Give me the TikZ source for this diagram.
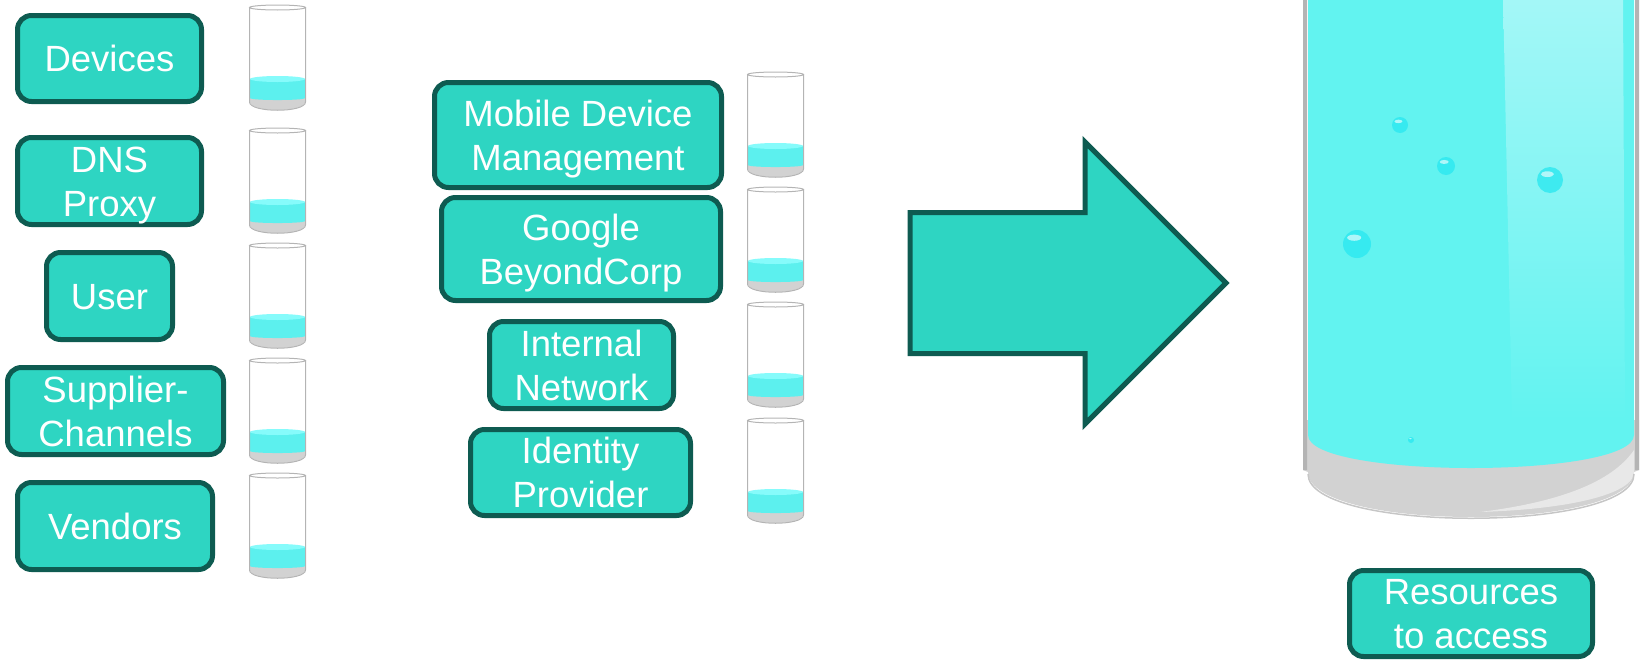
\documentclass[tikz,border=0pt]{standalone}
\usepackage{fontspec}
\setmainfont{Liberation Sans}
\usepackage{tikz}
\definecolor{boxfill}{HTML}{2ED5C2}
\definecolor{boxline}{HTML}{0E5B51}
\definecolor{water}{HTML}{5CF0EE}
\definecolor{watertop}{HTML}{86FBFB}
\definecolor{bigwater}{HTML}{62F3F0}
\definecolor{shine}{HTML}{A4F7F7}
\definecolor{glassline}{HTML}{B4B4B4}
\definecolor{glassbase}{HTML}{D2D2D2}
\definecolor{bubble}{HTML}{2CE8F0}
\tikzset{
x=1pt, y=-1pt, % one unit is one pixel of the picture, y runs downwards
every node/.style={font=\fontsize{36.5}{44}\selectfont, text=white},
source/.style={draw=boxline, fill=boxfill, line width=5pt, rounded corners=14pt,
  align=center, inner sep=0pt, text height=26pt, text depth=0pt}, % sets the properties for each box
twoline/.style={text height=70pt}, % room for the first of two lines
glass/.pic={ % a small glass, 57 wide and 106 high
  \fill[glassbase] (1,86) -- (1,98) .. controls (1,108.7) and (56,108.7) .. (56,98) -- (56,86) -- cycle;
  \fill[water] (1,75) -- (1,94) .. controls (1,96.7) and (56,96.7) .. (56,94) -- (56,75) -- cycle;
  \fill[watertop] (28.5,75) ellipse (27.5 and 3);
  \draw[glassline, line width=1pt] (28.5,3.5) ellipse (28 and 2.5)
    (0.5,3.5) -- (0.5,98) .. controls (0.5,109) and (56.5,109) .. (56.5,98) -- (56.5,3.5);
},
}
\begin{document}
\begin{tikzpicture}
\useasboundingbox (0,0) rectangle (1648,659);

% the big glass
\fill[glassbase] (1303,420) -- (1303,470) -- (1308,472) .. controls (1308,532) and (1634,532) .. (1634,472) -- (1639,470) -- (1639,420) -- cycle;
\fill[gray!18] (1634,450) .. controls (1612,482) and (1560,502) .. (1480,512) .. controls (1572,509) and (1630,494) .. (1634,474) -- cycle;
\draw[gray!45, line width=1.5pt] (1308,474) .. controls (1308,533) and (1634,533) .. (1634,474);
\fill[bigwater] (1308,-5) -- (1308,435) .. controls (1308,479) and (1634,479) .. (1634,435) -- (1634,-5) -- cycle;
\shade[top color=shine, bottom color=bigwater] (1503,-5) -- (1512,420) -- (1625,420) -- (1623,-5) -- cycle;
\fill[glassline] (1303,-5) rectangle (1307,470) (1635,-5) rectangle (1639,470);
\foreach \x/\y/\r in {1400/125/8, 1446/166/9, 1550/180/13, 1357/244/14, 1411/440/3}{
  \fill[bubble, opacity=.8] (\x,\y) circle (\r);
  \fill[white, opacity=.6] (\x-.2*\r,\y-.45*\r) ellipse ({.5*\r} and {.22*\r});
}

% the arrow
\draw[draw=boxline, fill=boxfill, line width=5pt, line join=miter]
  (910,212.5) -- (1085,212.5) -- (1085,142) -- (1226,283) -- (1085,424) -- (1085,353.5) -- (910,353.5) -- cycle;

% first column
\node[source, minimum width=184pt, minimum height=86pt] (devices) at (109.5,58.5) {Devices};
\node[source, twoline, minimum width=184pt, minimum height=87pt] (dns) at (109.5,181) {DNS\\Proxy};
\node[source, minimum width=126pt, minimum height=87pt] (user) at (109.5,296) {User};
\node[source, twoline, minimum width=216pt, minimum height=87pt] (supplier) at (115.5,411) {Supplier-\\Channels};
\node[source, minimum width=195pt, minimum height=87pt] (vendors) at (115,526) {Vendors};
\foreach \t in {4,127,242,357,472}
  \pic at (249,\t) {glass};

% second column
\node[source, twoline, minimum width=287pt, minimum height=105pt] (mdm) at (578,135) {Mobile Device\\Management};
\node[source, twoline, minimum width=279pt, minimum height=103pt] (beyondcorp) at (581,249) {Google\\BeyondCorp};
\node[source, twoline, minimum width=184pt, minimum height=87pt] (network) at (581.5,365) {Internal\\Network};
\node[source, twoline, minimum width=220pt, minimum height=86pt] (idp) at (580.5,472.5) {Identity\\Provider};
\foreach \t in {71,186,301,417}
  \pic at (747,\t) {glass};

% what is reached
\node[source, twoline, minimum width=243pt, minimum height=86pt] (resources) at (1471,613.5) {Resources\\to access};
\end{tikzpicture}
\end{document}
